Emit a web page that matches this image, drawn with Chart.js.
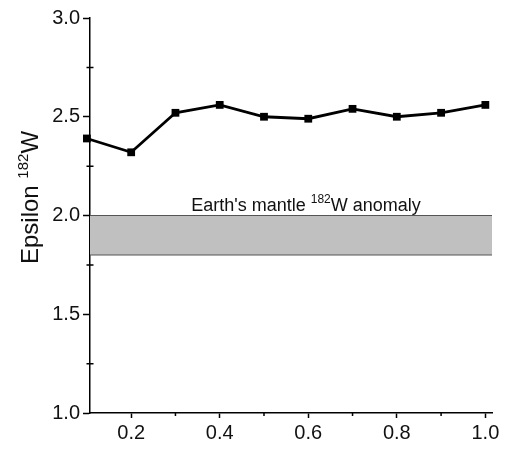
<!DOCTYPE html>
<html>
<head>
<meta charset="utf-8">
<script src="https://cdn.jsdelivr.net/npm/chart.js@4"></script>
<style>
  html, body { margin: 0; padding: 0; background: #fff; }
  #wrap { width: 505px; height: 451px; }
</style>
</head>
<body>
<div id="wrap"><canvas id="chart" width="505" height="451"></canvas></div>
<script>
// values
const xValues = [0.1, 0.2, 0.3, 0.4, 0.5, 0.6, 0.7, 0.8, 0.9, 1.0];
const epsilonW = [2.39, 2.32, 2.52, 2.56, 2.50, 2.49, 2.54, 2.50, 2.52, 2.56];
const mantleBand = [1.80, 2.00];   // Earth's mantle anomaly range
const xRange = [0.107, 1.015];
const yRange = [1.0, 3.0];
const xMinorTicks = [0.3, 0.5, 0.7, 0.9];
const yMinorTicks = [1.25, 1.75, 2.25, 2.75];

const FONT = "'Liberation Sans', Arial, sans-serif";

// minor ticks + texts with superscripts
const extrasPlugin = {
    id: 'extras',
    afterDraw(chart) {
        const ctx = chart.ctx;
        const xs = chart.scales.x, ys = chart.scales.y;
        ctx.save();
        ctx.strokeStyle = '#000';
        ctx.lineWidth = 1.5;
        ctx.beginPath();
        xMinorTicks.forEach(v => {
            const px = xs.getPixelForValue(v);
            ctx.moveTo(px, xs.top);
            ctx.lineTo(px, xs.top + 3);
        });
        yMinorTicks.forEach(v => {
            const py = ys.getPixelForValue(v);
            ctx.moveTo(ys.right - 3.5, py);
            ctx.lineTo(ys.right + 3.5, py);
        });
        ctx.stroke();

        // y axis title
        ctx.fillStyle = '#111';
        ctx.textBaseline = 'alphabetic';
        drawSupText(ctx, ['Epsilon ', '182', 'W'], 24, 15, true, 38, (ys.top + ys.bottom) / 2 - 18);

        // band label
        const midX = (xs.left + xs.right) / 2 + 15;
        drawSupText(ctx, ["Earth's mantle ", '182', 'W anomaly'], 18, 12, false, midX, ys.getPixelForValue(mantleBand[1]) - 5);
        ctx.restore();
    }
};

function drawSupText(ctx, parts, size, supSize, rotate, cx, cy) {
    const big = size + 'px ' + FONT, small = supSize + 'px ' + FONT;
    ctx.font = big;
    const w0 = ctx.measureText(parts[0]).width;
    const w2 = ctx.measureText(parts[2]).width;
    ctx.font = small;
    const w1 = ctx.measureText(parts[1]).width;
    const total = w0 + w1 + w2;
    ctx.save();
    ctx.translate(cx, cy);
    if (rotate) ctx.rotate(-Math.PI / 2);
    ctx.textAlign = 'left';
    let x = -total / 2;
    ctx.font = big;
    ctx.fillText(parts[0], x, 0);
    x += w0;
    ctx.font = small;
    ctx.fillText(parts[1], x, -size * 0.42);
    x += w1;
    ctx.font = big;
    ctx.fillText(parts[2], x, 0);
    ctx.restore();
}

const ctx = document.getElementById('chart').getContext('2d');
new Chart(ctx, {
    type: 'line',
    data: {
        datasets: [
            {
                label: 'band low',
                data: xRange.map(x => ({ x: x, y: mantleBand[0] })),
                borderColor: '#555',
                borderWidth: 1,
                pointRadius: 0,
                fill: false
            },
            {
                label: 'band high',
                data: xRange.map(x => ({ x: x, y: mantleBand[1] })),
                borderColor: '#555',
                borderWidth: 1,
                pointRadius: 0,
                backgroundColor: '#c0c0c0',
                fill: '-1'
            },
            {
                label: 'Epsilon 182W',
                data: xValues.map((x, i) => ({ x: x, y: epsilonW[i] })),
                borderColor: '#000',
                backgroundColor: '#000',
                borderWidth: 2.8,
                pointStyle: 'rect',
                pointRadius: 5.5,
                pointBorderWidth: 0,
                tension: 0,
                clip: false
            }
        ]
    },
    options: {
        responsive: false,
        animation: false,
        layout: { padding: { top: 18, right: 13, left: 0, bottom: 0 } },
        plugins: {
            legend: { display: false },
            tooltip: { enabled: false },
            title: { display: false }
        },
        scales: {
            x: {
                type: 'linear',
                min: xRange[0],
                max: xRange[1],
                border: { color: '#000', width: 1.5 },
                grid: { drawOnChartArea: false, drawTicks: true, tickLength: 5, tickColor: '#000', tickWidth: 1.5 },
                ticks: {
                    stepSize: 0.2,
                    includeBounds: false,
                    color: '#111',
                    padding: 3,
                    font: { family: FONT, size: 20 },
                    callback: v => v.toFixed(1)
                },
                afterFit: s => { s.height = 38; }
            },
            y: {
                min: yRange[0],
                max: yRange[1],
                border: { color: '#000', width: 1.5 },
                grid: { drawOnChartArea: false, drawTicks: true, tickLength: 7, tickColor: '#000', tickWidth: 1.5 },
                ticks: {
                    stepSize: 0.5,
                    color: '#111',
                    padding: 3,
                    font: { family: FONT, size: 20 },
                    callback: v => v.toFixed(1)
                },
                afterFit: s => { s.width = 90; }
            }
        }
    },
    plugins: [extrasPlugin]
});
</script>
</body>
</html>
